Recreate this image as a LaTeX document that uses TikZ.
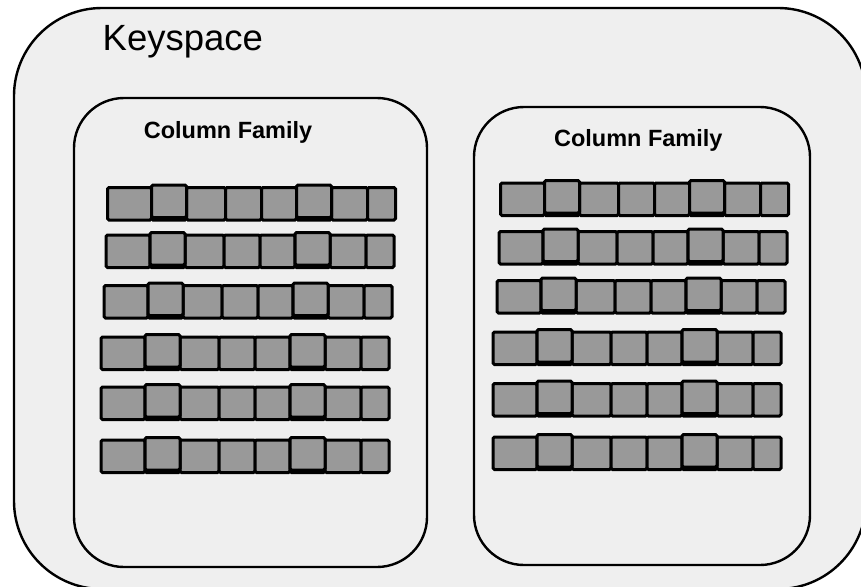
\documentclass[tikz,border=0pt]{standalone}
\usepackage{fontspec}
\setmainfont{Liberation Sans}
\definecolor{boxfill}{HTML}{EFEFEF}
\definecolor{cellfill}{HTML}{999999}
\tikzset{
  outerbox/.style={draw=black, line width=2.4pt, fill=boxfill, rounded corners=88pt},
  famboxstyle/.style={draw=black, line width=2.4pt, fill=boxfill, rounded corners=50pt},
  cellbox/.style={draw=black, line width=3pt, fill=cellfill, rounded corners=1.5pt},
  kstext/.style={font=\fontsize{36.5}{40}\selectfont, inner sep=0pt, anchor=base west},
  cftext/.style={font=\fontsize{23.5}{26}\selectfont\bfseries, inner sep=0pt, anchor=base},
}
\newcommand\famrow[2]{%
  \foreach \a/\b in {0/44,44/79,79/118,118/154,154/189,189/224,224/260,260/288}{
    \draw[cellbox] (#1+\a,#2) rectangle (#1+\b,#2+32.5);
  }
  \draw[cellbox] (#1+44,#2-2.5) rectangle (#1+79,#2+30);
  \draw[cellbox] (#1+189,#2-2.5) rectangle (#1+224,#2+30);
}
\begin{document}
\begin{tikzpicture}[x=1pt,y=-1pt]
\useasboundingbox (0,0) rectangle (861,586);
\fill[white] (0,0) rectangle (861,586);
\draw[outerbox] (14,8) rectangle (866,589);
\node[kstext] (ks) at (102.5,50.5) {Keyspace};
% left column family
\draw[famboxstyle] (74,98) rectangle (427,567);
\node[cftext] (cf1) at (228,138.3) {Column Family};
\famrow{107.5}{187.5}
\famrow{106}{235}
\famrow{104}{285.5}
\famrow{101}{337}
\famrow{101}{387}
\famrow{101}{440}
% right column family
\draw[famboxstyle] (474,107) rectangle (810,565);
\node[cftext] (cf2) at (638.3,146) {Column Family};
\famrow{500.5}{183}
\famrow{499}{231.5}
\famrow{497}{280.5}
\famrow{493}{332}
\famrow{493}{383.5}
\famrow{493}{437}
\end{tikzpicture}
\end{document}
